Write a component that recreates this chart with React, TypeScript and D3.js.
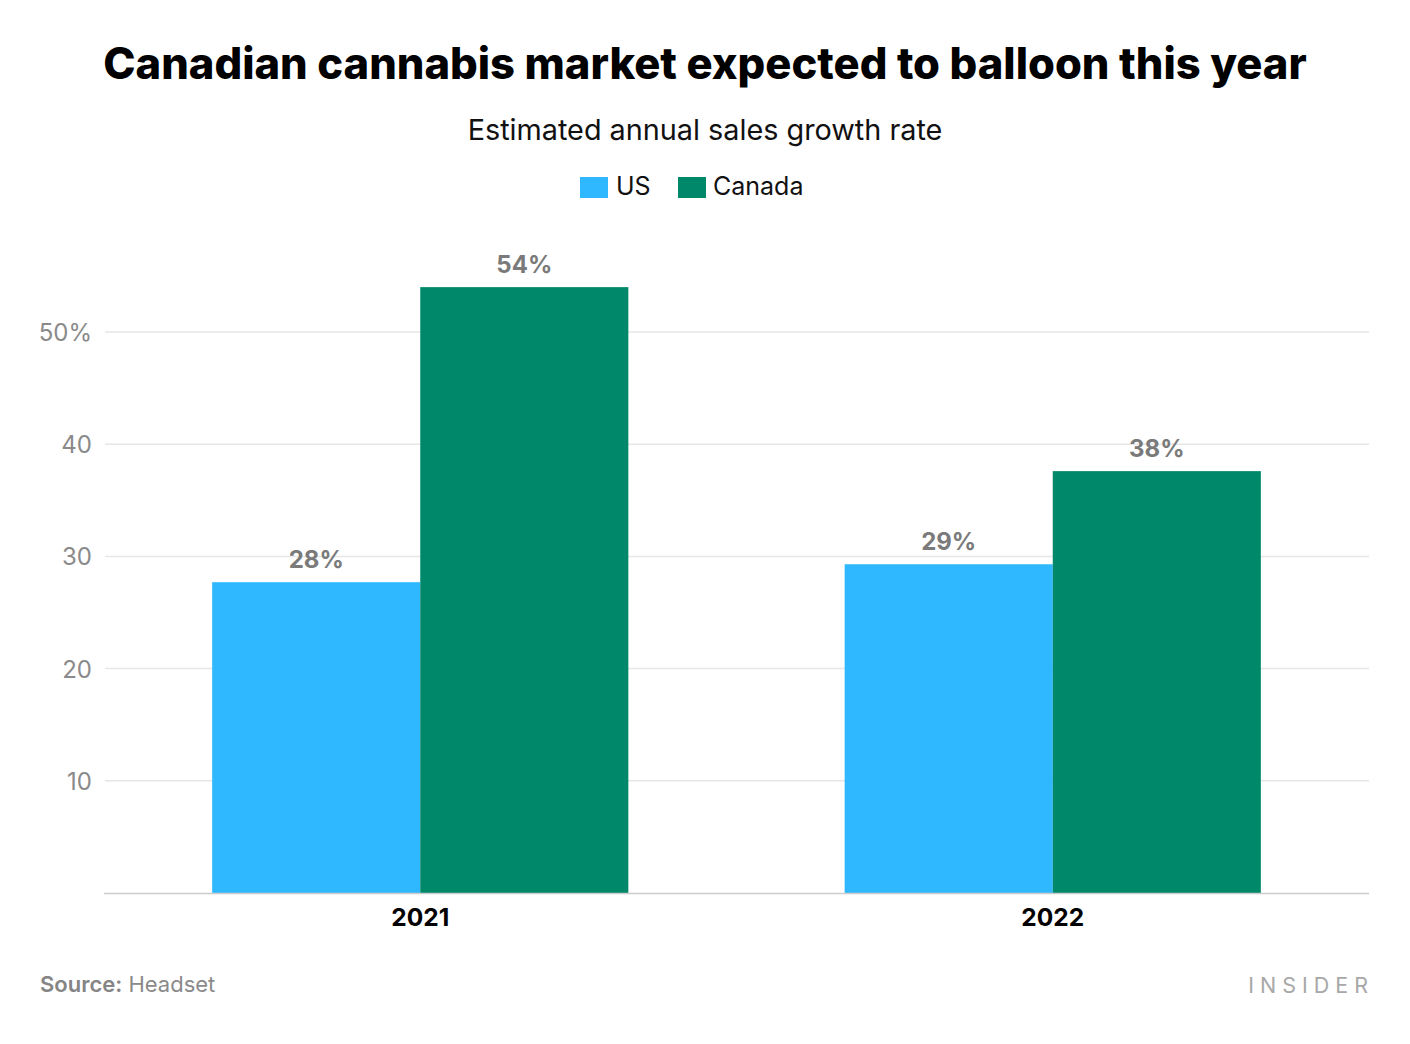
import React from "react";
import * as d3 from "d3";

const years = ["2021", "2022"];
const seriesNames = ["US", "Canada"];
const usValues = [27.7, 29.3];
const canadaValues = [54.0, 37.6];
const valueLabels = [["28%", "54%"], ["29%", "38%"]];
const yTicks = [10, 20, 30, 40, 50];
const colors = ["#2fb8ff", "#00886a"];

const W = 1410;
const H = 1044;
const M = { left: 104, right: 1369, top: 230, bottom: 893 };

export default function App() {
  const x0 = d3.scaleBand<string>().domain(years).range([M.left, M.right]).padding(0);
  const groupW = x0.step() * 0.658;
  const x1 = d3.scaleBand<string>().domain(seriesNames).range([0, groupW]).padding(0);
  const y = d3.scaleLinear().domain([0, 50]).range([M.bottom, 332]);
  const seriesValues = [usValues, canadaValues];
  const font = "Inter, 'Noto Sans', sans-serif";

  return (
    <svg width={W} height={H} style={{ position: "absolute", left: 0, top: 0, background: "#fff" }} fontFamily={font}>
      <rect width={W} height={H} fill="#fff" />
      <text x={705} y={79} textAnchor="middle" fontSize={43.5} fontWeight={800} fill="#000">
        Canadian cannabis market expected to balloon this year
      </text>
      <text x={705} y={140} textAnchor="middle" fontSize={28.8} fill="#111">
        Estimated annual sales growth rate
      </text>
      {/* legend */}
      <rect x={580} y={177} width={28} height={21} fill={colors[0]} />
      <text x={616} y={195} fontSize={25} fill="#111">US</text>
      <rect x={678} y={177} width={28} height={21} fill={colors[1]} />
      <text x={713} y={195} fontSize={25} fill="#111">Canada</text>

      {yTicks.map((t) => (
        <g key={t}>
          <line x1={M.left + 1} x2={M.right} y1={y(t)} y2={y(t)} stroke="#e6e6e6" strokeWidth={1.5} />
          <text x={92} y={y(t) + 9} textAnchor="end" fontSize={24} fill="#8a8a8a">
            {t === 50 ? "50%" : String(t)}
          </text>
        </g>
      ))}

      {years.map((yr, i) => {
        const gx = (x0(yr) as number) + (x0.step() - groupW) / 2;
        return (
          <g key={yr}>
            {seriesNames.map((s, j) => {
              const v = seriesValues[j][i];
              const bx = gx + (x1(s) as number);
              return (
                <g key={s}>
                  <rect x={bx} y={y(v)} width={x1.bandwidth()} height={M.bottom - y(v)} fill={colors[j]} />
                  <text x={bx + x1.bandwidth() / 2} y={y(v) - 14} textAnchor="middle" fontSize={24} fontWeight={700} fill="#7a7a7a">
                    {valueLabels[i][j]}
                  </text>
                </g>
              );
            })}
            <text x={gx + groupW / 2} y={926} textAnchor="middle" fontSize={24.5} fontWeight={700} fill="#000">
              {yr}
            </text>
          </g>
        );
      })}

      <line x1={M.left} x2={M.right} y1={M.bottom + 0.5} y2={M.bottom + 0.5} stroke="#cccccc" strokeWidth={1.5} />

      <text x={40} y={992} fontSize={22} fill="#8a8a8a">
        <tspan fontWeight={600} fill="#858585">Source:</tspan>
        <tspan> Headset</tspan>
      </text>
      <text x={1374} y={993} textAnchor="end" fontSize={21.5} fill="#a8a8a8" letterSpacing={6}>
        INSIDER
      </text>
    </svg>
  );
}
